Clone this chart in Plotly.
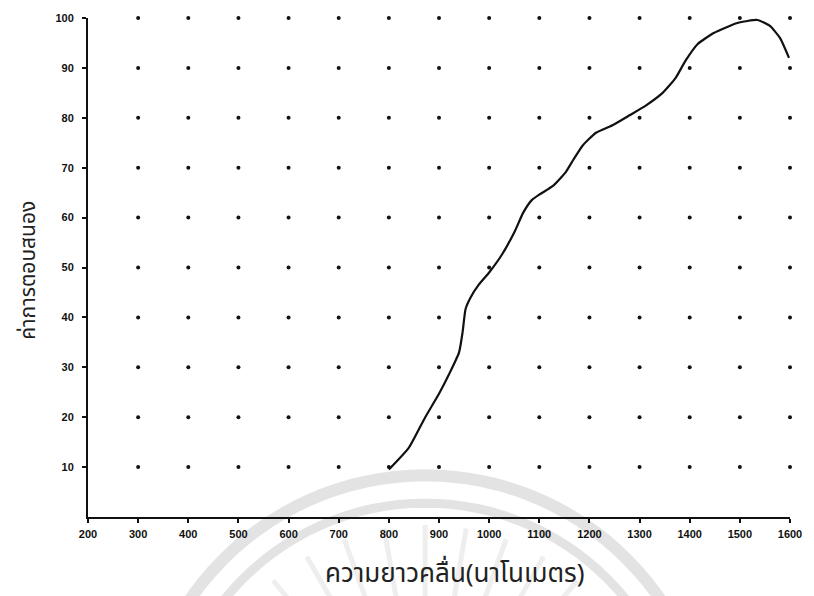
import math
import plotly.graph_objects as go

# Spectral response curve (wavelength in nm, relative response)
wavelength = [800, 840, 872, 900, 920, 940, 947, 953, 963, 979, 1000, 1025,
              1050, 1068, 1085, 1100, 1128, 1152, 1168, 1187, 1213, 1246, 1280,
              1313, 1346, 1372, 1392, 1416, 1448, 1495, 1535, 1560, 1580, 1598]
response = [9.5, 13.9, 19.9, 24.7, 28.6, 33, 37, 41.7, 44, 46.5, 49, 52.5,
            57, 61, 63.5, 64.6, 66.4, 69, 71.6, 74.5, 77, 78.5, 80.5,
            82.5, 85, 88, 91.5, 94.8, 97, 99, 99.6, 98.4, 96, 92]

x_ticks = list(range(200, 1601, 100))
y_ticks = list(range(10, 101, 10))
grid_x = list(range(300, 1601, 100))
grid_y = list(range(10, 101, 10))

W, H = 814, 596
L, R, T, B = 88, 14, 14, 79

fig = go.Figure()

# dotted grid: one dot at each gridline crossing
gx, gy = [], []
for yy in grid_y:
    for xx in grid_x:
        gx.append(xx)
        gy.append(yy)
fig.add_trace(go.Scatter(x=gx, y=gy, mode="markers",
                         marker=dict(size=4, color="#111111"),
                         cliponaxis=False, hoverinfo="skip", showlegend=False))

fig.add_trace(go.Scatter(x=wavelength, y=response, mode="lines",
                         line=dict(color="#111111", width=2.2, shape="spline", smoothing=0.5),
                         cliponaxis=False, showlegend=False))

# faint watermark rings behind the chart
pw, ph = W - L - R, H - T - B
def to_paper(px, py):
    return (px - L) / pw, (H - B - py) / ph

cx, cy = 430, 765
shapes = []
for rad, wid in [(290, 12), (262, 9)]:
    pts = []
    for k in range(0, 181, 3):
        a = math.radians(180 + k)
        px = cx + rad * math.cos(a)
        py = cy + rad * math.sin(a)
        pts.append(to_paper(px, py))
    path = "M " + " L ".join(f"{p[0]:.4f},{p[1]:.4f}" for p in pts)
    shapes.append(dict(type="path", path=path, xref="paper", yref="paper",
                       line=dict(color="rgba(200,200,200,0.5)", width=wid),
                       layer="below"))
for ang in range(200, 341, 10):
    a = math.radians(ang)
    p0 = to_paper(cx + 150 * math.cos(a), cy + 150 * math.sin(a))
    p1 = to_paper(cx + 240 * math.cos(a), cy + 240 * math.sin(a))
    shapes.append(dict(type="line", xref="paper", yref="paper",
                       x0=p0[0], y0=p0[1], x1=p1[0], y1=p1[1],
                       line=dict(color="rgba(205,205,205,0.35)", width=5),
                       layer="below"))

tick_font = dict(family="Liberation Sans, Arial, sans-serif", size=11,
                 color="#111111", weight="bold")
thai_font = "Noto Sans Thai, Loma, Tahoma, Garuda, DejaVu Sans, sans-serif"

x_title_pos = to_paper(460, 574)
y_title_pos = to_paper(28, 268)

fig.update_layout(
    width=W, height=H,
    margin=dict(l=L, r=R, t=T, b=B),
    paper_bgcolor="white", plot_bgcolor="white",
    shapes=shapes,
    xaxis=dict(range=[200, 1600], tickvals=x_ticks, ticktext=[str(v) for v in x_ticks],
               showgrid=False, zeroline=False, showline=True, linecolor="#111111",
               linewidth=2, ticks="outside", ticklen=4, tickwidth=1.5, tickcolor="#111111",
               tickfont=tick_font, ticklabelstandoff=2),
    yaxis=dict(range=[0, 100], tickvals=y_ticks, ticktext=[str(v) for v in y_ticks],
               showgrid=False, zeroline=False, showline=True, linecolor="#111111",
               linewidth=2, ticks="outside", ticklen=4, tickwidth=1.5, tickcolor="#111111",
               tickfont=tick_font, ticklabelstandoff=6),
    annotations=[
        dict(text="ความยาวคลื่น(นาโนเมตร)", xref="paper", yref="paper",
             x=x_title_pos[0], y=x_title_pos[1], xanchor="center", yanchor="middle",
             showarrow=False, font=dict(family=thai_font, size=26, color="#222222")),
        dict(text="ค่าการตอบสนอง", xref="paper", yref="paper", textangle=-90,
             x=y_title_pos[0], y=y_title_pos[1], xanchor="center", yanchor="middle",
             showarrow=False, font=dict(family=thai_font, size=21, color="#222222")),
    ],
)

fig.write_html("out.html")
